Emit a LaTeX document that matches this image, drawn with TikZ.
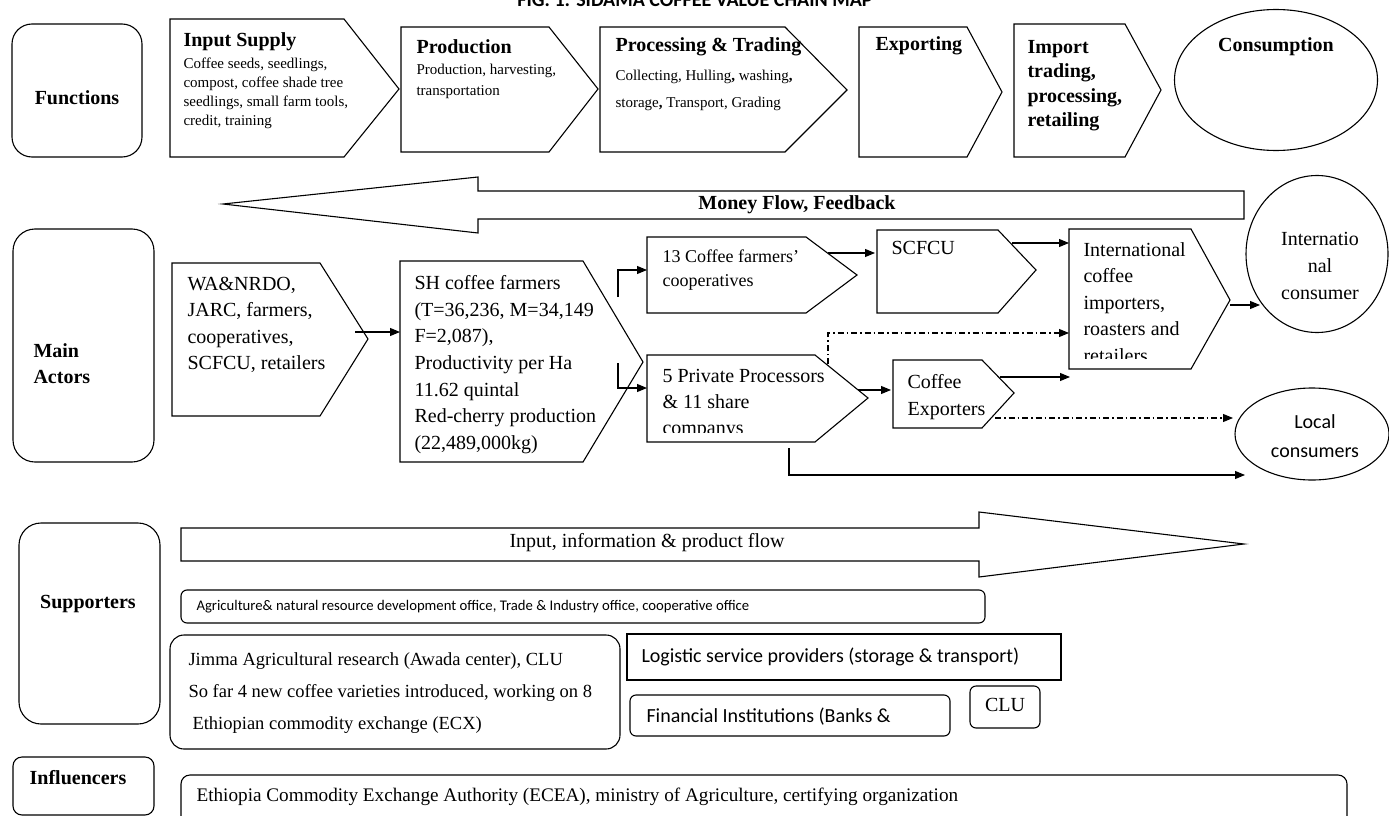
\documentclass[tikz,border=0pt]{standalone}
\usepackage{fontspec}
\setmainfont{Liberation Serif}
\newfontfamily\calfont{Carlito}
\usetikzlibrary{arrows.meta,shapes.geometric}

\begin{document}
\begin{tikzpicture}[x=1pt, y=-1pt, line width=1.1pt,
  every node/.style={inner sep=0pt},
  hd/.style={font=\fontsize{20}{24}\selectfont\bfseries},
  tx/.style={font=\fontsize{20}{26.5}\selectfont, align=left},
  sm/.style={font=\fontsize{15}{19}\selectfont, align=left},
  cal/.style={font=\calfont\fontsize{20}{24}\selectfont},
  arr/.style={-{Triangle[length=10pt,width=8pt]}},
  dd/.style={arr, dash pattern=on 6pt off 3pt on 1.5pt off 3pt}]

\useasboundingbox (0,0) rectangle (1389,816);

\node[font=\calfont\fontsize{20}{24}\selectfont\bfseries, anchor=base] (title) at (695,7) {FIG. 1: SIDAMA COFFEE VALUE CHAIN MAP};

%%%%%%%%%%%%%%%%%%%%%%%%%%%%%%%%%%%%%%%%%%%%%%%%%%%%%%%%%%%%%%%%
% Functions
%%%%%%%%%%%%%%%%%%%%%%%%%%%%%%%%%%%%%%%%%%%%%%%%%%%%%%%%%%%%%%%%

\draw [rounded corners=20pt] (12,24) rectangle (142,157);
    \node [hd] (fun) at (77,98) {Functions};

% Input supply
\draw (170,19) -- (344,19) -- (399,89) -- (344,157) -- (170,157) -- cycle;
    \node [hd, anchor=west] (insup) at (183,42) {Input Supply};
    \node [sm, anchor=north west] (insup-t) at (183,57.5) {Coffee seeds, seedlings,\\compost, coffee shade tree\\seedlings, small farm tools,\\credit, training};

% Production
\draw (401,27) -- (549,27) -- (598,89) -- (549,152) -- (401,152) -- cycle;
    \node [hd, anchor=west] (prod) at (416,47) {Production};
    \node [font=\fontsize{15}{21}\selectfont, align=left, anchor=north west] (prod-t) at (416,63.5) {Production, harvesting,\\transportation};

% Processing and trading
\draw (600,27) -- (785,27) -- (847,90) -- (785,152) -- (600,152) -- cycle;
    \node [hd, anchor=west] (proc) at (615,47) {Processing \& Trading};
    \node [font=\fontsize{15}{27}\selectfont, align=left, anchor=north west] (proc-t) at (615,69.5) {Collecting, Hulling\textbf{,} washing\textbf{,}\\storage\textbf{,} Transport, Grading};

% Exporting
\draw (859,27) -- (967,27) -- (1002,92) -- (967,157) -- (859,157) -- cycle;
    \node [hd, anchor=west] (expo) at (875,46) {Exporting};

% Import
\draw (1014,24) -- (1125,24) -- (1161,90) -- (1125,157) -- (1014,157) -- cycle;
    \node [font=\fontsize{20}{24.3}\selectfont\bfseries, align=left, anchor=north west] (imp) at (1027,40) {Import\\trading,\\processing,\\retailing};

% Consumption
\node [draw, ellipse, minimum width=203pt, minimum height=141pt] (cons) at (1276,80) {};
    \node [hd] (cons-t) at (1276,47) {Consumption};

%%%%%%%%%%%%%%%%%%%%%%%%%%%%%%%%%%%%%%%%%%%%%%%%%%%%%%%%%%%%%%%%
% Money flow
%%%%%%%%%%%%%%%%%%%%%%%%%%%%%%%%%%%%%%%%%%%%%%%%%%%%%%%%%%%%%%%%

\draw (223,204) -- (478,177) -- (478,191) -- (1244,191) -- (1244,219) -- (478,219) -- (478,233) -- cycle;
    \node [hd] (money) at (797,205) {Money Flow, Feedback};

%%%%%%%%%%%%%%%%%%%%%%%%%%%%%%%%%%%%%%%%%%%%%%%%%%%%%%%%%%%%%%%%
% Main actors
%%%%%%%%%%%%%%%%%%%%%%%%%%%%%%%%%%%%%%%%%%%%%%%%%%%%%%%%%%%%%%%%

\draw [rounded corners=22pt] (13,229) rectangle (154,462);
    \node [font=\fontsize{20}{26}\selectfont\bfseries, align=left, anchor=north west] (actors) at (33,343) {Main\\Actors};

% Input suppliers
\draw (172,263) -- (320,263) -- (368,339) -- (320,416) -- (172,416) -- cycle;
    \node [tx, anchor=north west] (wa) at (187,276.5) {WA\&NRDO,\\JARC, farmers,\\cooperatives,\\SCFCU, retailers};

% Smallholder farmers
\draw (400,261) -- (583,261) -- (643,362) -- (583,462) -- (400,462) -- cycle;
    \node [font=\fontsize{20}{26.67}\selectfont, align=left, anchor=north west] (sh) at (414,275) {SH coffee farmers\\(T=36,236, M=34,149\\F=2,087),\\Productivity per Ha\\11.62 quintal\\Red-cherry production\\(22,489,000kg)};

% Cooperatives
\draw (647,237) -- (806,237) -- (857,275) -- (806,313) -- (647,313) -- cycle;
    \node [font=\fontsize{18}{24}\selectfont, align=left, anchor=north west] (coop) at (662,249.5) {13 Coffee farmers'\\cooperatives};

% Union
\draw (877,230) -- (998,230) -- (1036,270) -- (998,313) -- (877,313) -- cycle;
    \node [font=\fontsize{20}{24}\selectfont, anchor=west] (scfcu) at (891,248) {SCFCU};

% Importers
\draw (1069,229) -- (1191,229) -- (1230,300) -- (1191,369) -- (1069,369) -- cycle;
\begin{scope}
    \clip (1069,229) rectangle (1230,358.5);
    \node [tx, anchor=north west] (intl) at (1083,242) {International\\coffee\\importers,\\roasters and\\retailers};
\end{scope}

% International consumer
\node [draw, ellipse, minimum width=142pt, minimum height=157pt] (icons) at (1317,254) {};
    \node [font=\fontsize{20}{27}\selectfont, align=center, anchor=north] (icons-t) at (1320,232) {Internatio\\nal\\consumer};

% Private processors
\draw (647,355) -- (815,355) -- (868,398) -- (815,442) -- (647,442) -- cycle;
\begin{scope}
    \clip (647,355) rectangle (868,432);
    \node [font=\fontsize{20}{26}\selectfont, align=left, anchor=north west] (pp) at (662,369) {5 Private Processors\\\& 11 share\\companys};
\end{scope}

% Exporters
\draw (893,360) -- (982,360) -- (1014,393) -- (982,428) -- (893,428) -- cycle;
    \node [font=\fontsize{20}{27}\selectfont, align=left, anchor=north west] (cexp) at (907,374) {Coffee\\Exporters};

% Local consumers
\node [draw, ellipse, minimum width=154pt, minimum height=92pt] (local) at (1312,434) {};
    \node [font=\calfont\fontsize{20}{28.5}\selectfont, align=center, anchor=north] (local-t) at (1315,414.5) {Local\\consumers};

%%%%%%%%%%%%%%%%%%%%%%%%%%%%%%%%%%%%%%%%%%%%%%%%%%%%%%%%%%%%%%%%
% Edges
%%%%%%%%%%%%%%%%%%%%%%%%%%%%%%%%%%%%%%%%%%%%%%%%%%%%%%%%%%%%%%%%

\coordinate (wa-out) at (355,332);
\coordinate (sh-in) at (400,332);
\coordinate (sh-up) at (618,297);
\coordinate (coop-in) at (647,270);
\coordinate (sh-dn) at (618,363);
\coordinate (pp-in) at (647,388);
\coordinate (coop-out) at (828,253);
\coordinate (scfcu-in) at (875,253);
\coordinate (scfcu-out) at (1012,243);
\coordinate (intl-in) at (1069,243);
\coordinate (intl-out) at (1230,305);
\coordinate (icons-in) at (1260,305);
\coordinate (pp-top) at (828,364);
\coordinate (intl-in2) at (1069,333);
\coordinate (pp-out) at (858,390);
\coordinate (cexp-in) at (891,390);
\coordinate (cexp-out) at (1000,377);
\coordinate (cexp-end) at (1070,377);
\coordinate (cexp-out2) at (995,418);
\coordinate (local-in) at (1233,418);
\coordinate (pp-bot) at (789,448);
\coordinate (local-in2) at (1245,475);

\draw [arr] (wa-out) to (sh-in);
\draw [arr] (sh-up) |- (coop-in);
\draw [arr] (sh-dn) |- (pp-in);
\draw [arr] (coop-out) to (scfcu-in);
\draw [arr] (scfcu-out) to (intl-in);
\draw [arr] (intl-out) to (icons-in);
\draw [dd] (pp-top) |- (intl-in2);
\draw [arr] (pp-out) to (cexp-in);
\draw [arr] (cexp-out) to (cexp-end);
\draw [dd] (cexp-out2) to (local-in);
\draw [arr] (pp-bot) |- (local-in2);

%%%%%%%%%%%%%%%%%%%%%%%%%%%%%%%%%%%%%%%%%%%%%%%%%%%%%%%%%%%%%%%%
% Supporters
%%%%%%%%%%%%%%%%%%%%%%%%%%%%%%%%%%%%%%%%%%%%%%%%%%%%%%%%%%%%%%%%

\draw [rounded corners=22pt] (19,523) rectangle (160,724);
    \node [hd] (supp) at (88,604) {Supporters};

% Product flow
\draw (181,528) -- (979,528) -- (979,512) -- (1244,544) -- (979,577) -- (979,561) -- (181,561) -- cycle;
    \node [font=\fontsize{20}{24}\selectfont] (flow) at (647,543) {Input, information \& product flow};

\draw [rounded corners=6pt] (181,590) rectangle (985,623);
    \node [font=\calfont\fontsize{14.7}{17}\selectfont, anchor=west] (agri) at (196,607) {Agriculture\& natural resource development office, Trade \& Industry office, cooperative office};

\draw [rounded corners=14pt] (170,635) rectangle (620,749);
    \node [font=\fontsize{18.5}{32}\selectfont, align=left, anchor=north west] (jimma) at (188,652.5) {Jimma Agricultural research (Awada center), CLU\\So far 4 new coffee varieties introduced, working on 8\\\hspace{4pt}Ethiopian commodity exchange (ECX)};

\draw (627,634) rectangle (1061,680);
    \node [cal, anchor=west] (logi) at (641,657) {Logistic service providers (storage \& transport)};

\draw [rounded corners=6pt] (630,695) rectangle (950,736);
    \node [cal, anchor=west] (fin) at (646,717) {Financial Institutions (Banks \&};

\draw [rounded corners=6pt] (970,686) rectangle (1040,728);
    \node [font=\fontsize{20}{24}\selectfont] (clu) at (1005,705) {CLU};

%%%%%%%%%%%%%%%%%%%%%%%%%%%%%%%%%%%%%%%%%%%%%%%%%%%%%%%%%%%%%%%%
% Influencers
%%%%%%%%%%%%%%%%%%%%%%%%%%%%%%%%%%%%%%%%%%%%%%%%%%%%%%%%%%%%%%%%

\draw [rounded corners=9pt] (13,757) rectangle (154,815);
    \node [hd] (infl) at (78,778) {Influencers};

\draw [rounded corners=9pt] (181,775) rectangle (1347,830);
    \node [font=\fontsize{19.2}{24}\selectfont, anchor=west] (ecea) at (196,797) {Ethiopia Commodity Exchange Authority (ECEA), ministry of Agriculture, certifying organization};

\end{tikzpicture}
\end{document}
